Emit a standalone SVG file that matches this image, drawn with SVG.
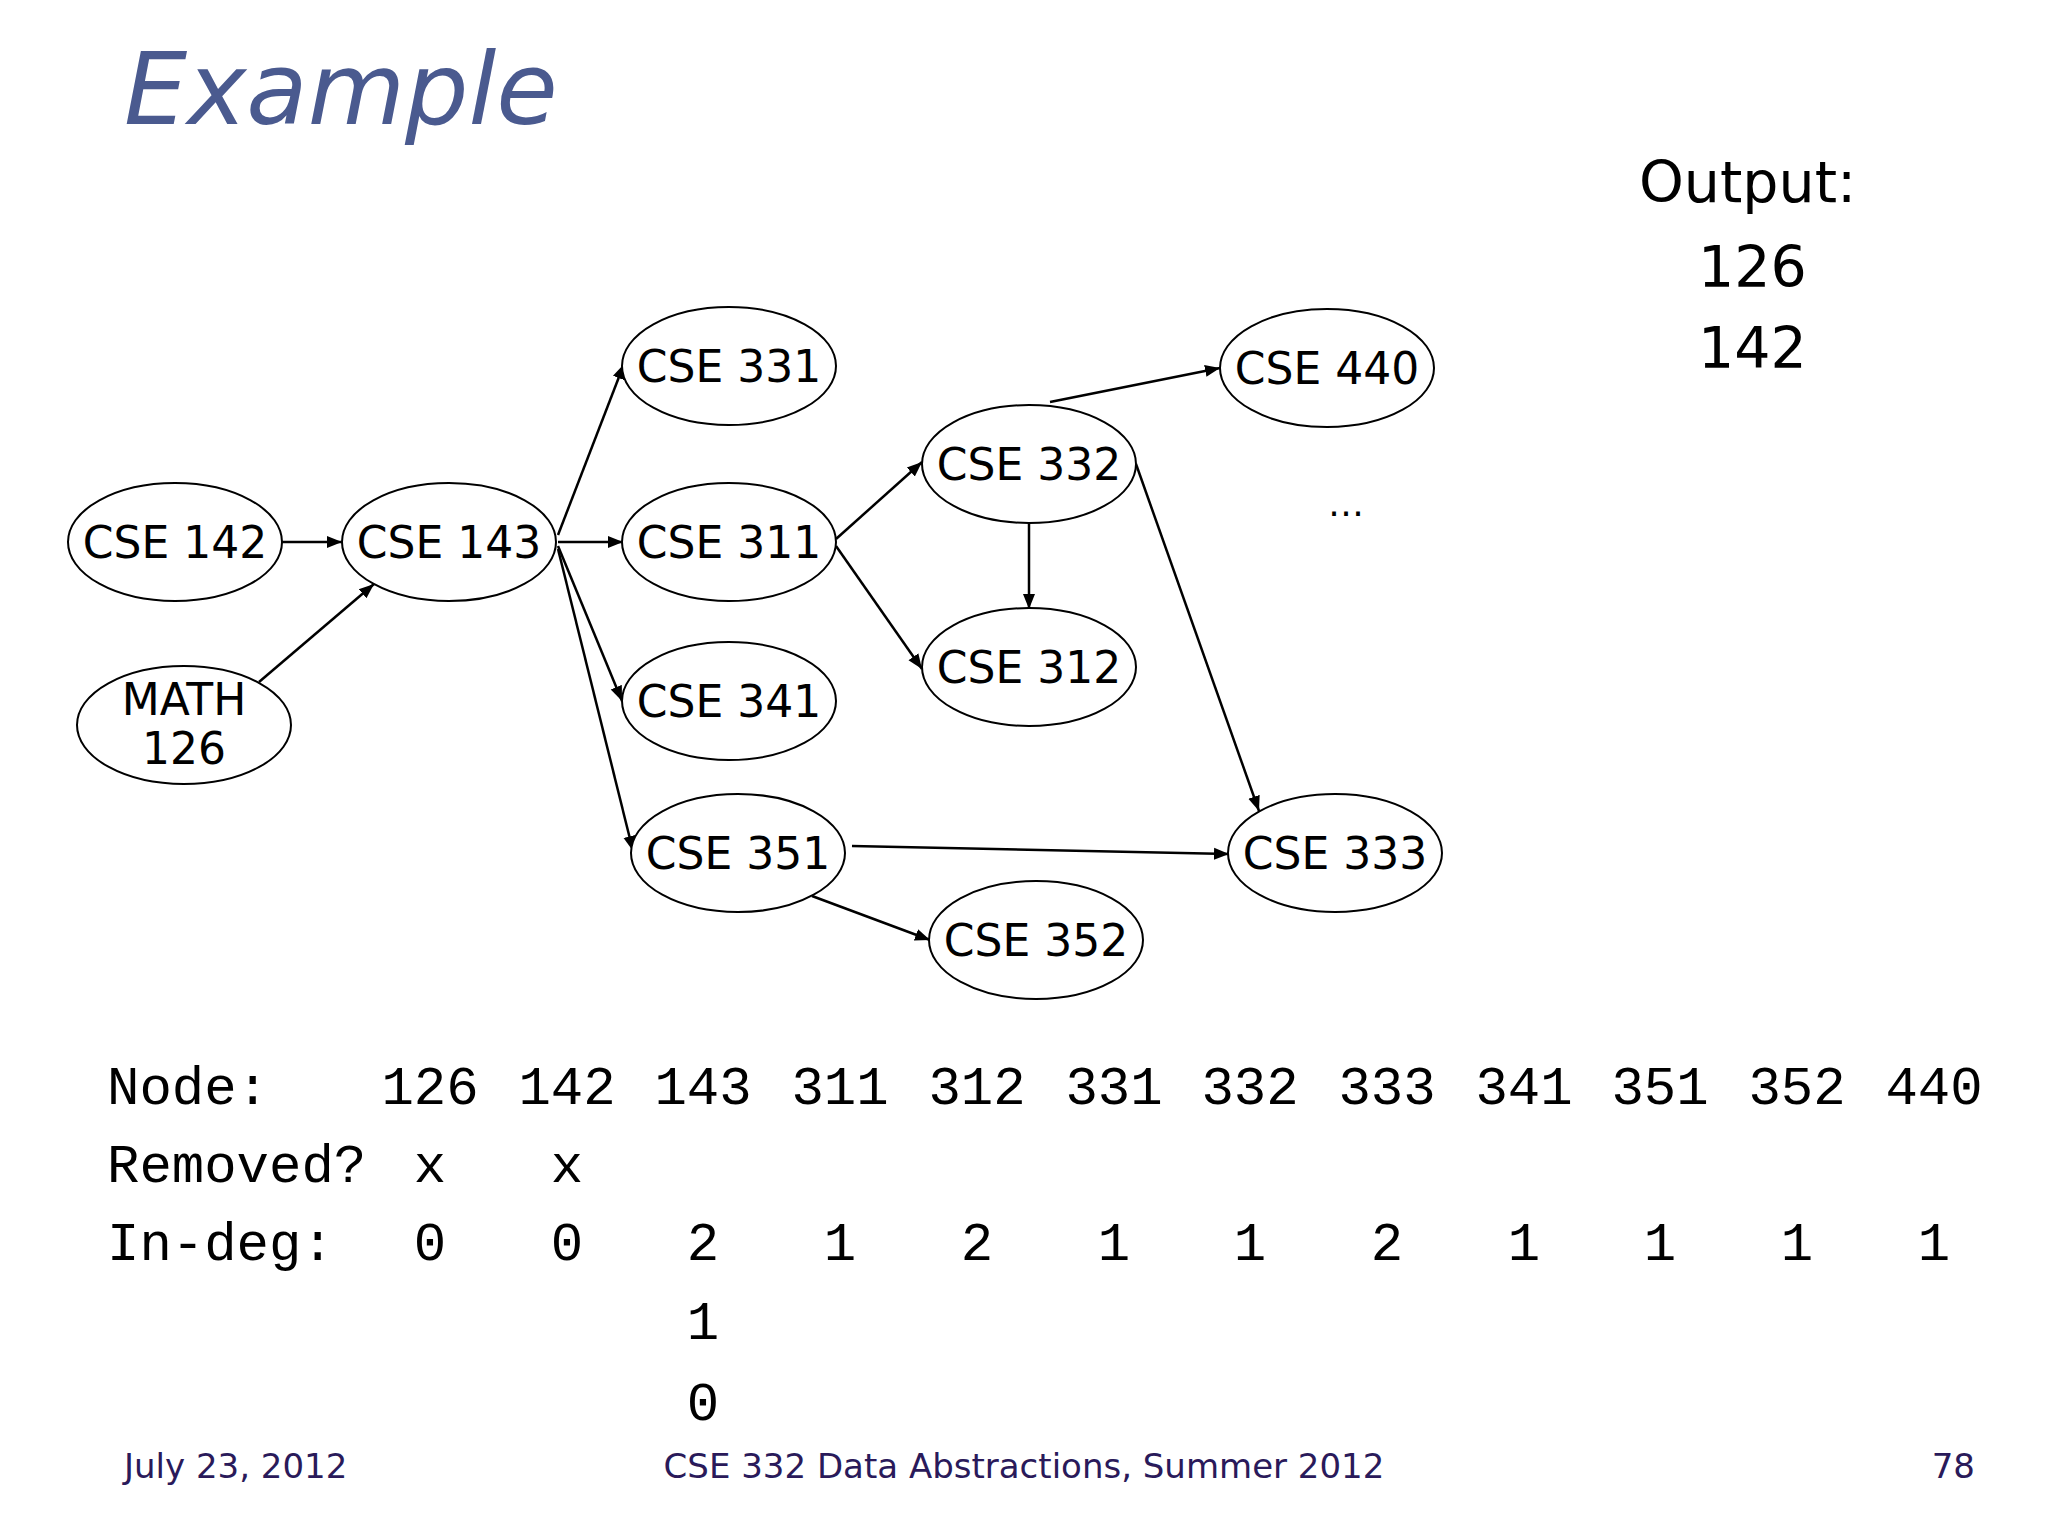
<svg xmlns="http://www.w3.org/2000/svg" width="2048" height="1536" viewBox="0 0 2048 1536">
<style>
.n ellipse{fill:#fff;stroke:#000;stroke-width:2}
.n text{font-family:"DejaVu Sans",sans-serif;font-size:44px;text-anchor:middle}
.e line{stroke:#000;stroke-width:2.5;marker-end:url(#a)}
.t{font-family:"Liberation Mono",monospace;font-size:54px}
.c{text-anchor:middle}
.f{font-family:"DejaVu Sans",sans-serif;font-size:34px;fill:#2a1a5a}
</style>
<defs><marker id="a" viewBox="0 0 10 10" refX="10" refY="5" markerWidth="6" markerHeight="6" orient="auto" markerUnits="strokeWidth"><path d="M0,1L10,5L0,9z"/></marker></defs>
<rect width="2048" height="1536" fill="#fff"/>
<text x="124" y="124" font-family="DejaVu Sans,sans-serif" font-style="italic" font-size="100" fill="#4a5a8f">Example</text>
<g font-family="DejaVu Sans,sans-serif" font-size="57">
<text x="1639" y="202">Output:</text><text x="1698" y="287">126</text><text x="1698" y="368">142</text>
<text x="1328" y="516" font-size="36">…</text>
</g>
<g class="e">
<line x1="282" y1="542" x2="342" y2="542"/>
<line x1="259" y1="682" x2="374" y2="584"/>
<line x1="558" y1="535" x2="624" y2="364"/>
<line x1="558" y1="542" x2="623" y2="542"/>
<line x1="558" y1="546" x2="622" y2="701"/>
<line x1="558" y1="549" x2="633" y2="851"/>
<line x1="836" y1="539" x2="922" y2="462"/>
<line x1="836" y1="546" x2="922" y2="669"/>
<line x1="1029" y1="522" x2="1029" y2="609"/>
<line x1="1050" y1="402" x2="1220" y2="368"/>
<line x1="1136" y1="464" x2="1259" y2="811"/>
<line x1="852" y1="846" x2="1229" y2="854"/>
<line x1="812" y1="896" x2="930" y2="940"/>
</g>
<g id="n142" class="n"><ellipse cx="175" cy="542" rx="107" ry="59"/><text x="175" y="558">CSE 142</text></g>
<g id="n143" class="n"><ellipse cx="449" cy="542" rx="107" ry="59"/><text x="449" y="558">CSE 143</text></g>
<g id="n126" class="n"><ellipse cx="184" cy="725" rx="107" ry="59"/><text x="184" y="715" font-size="40">MATH</text><text x="184" y="764" font-size="40">126</text></g>
<g id="n331" class="n"><ellipse cx="729" cy="366" rx="107" ry="59"/><text x="729" y="382">CSE 331</text></g>
<g id="n311" class="n"><ellipse cx="729" cy="542" rx="107" ry="59"/><text x="729" y="558">CSE 311</text></g>
<g id="n341" class="n"><ellipse cx="729" cy="701" rx="107" ry="59"/><text x="729" y="717">CSE 341</text></g>
<g id="n351" class="n"><ellipse cx="738" cy="853" rx="107" ry="59"/><text x="738" y="869">CSE 351</text></g>
<g id="n332" class="n"><ellipse cx="1029" cy="464" rx="107" ry="59"/><text x="1029" y="480">CSE 332</text></g>
<g id="n312" class="n"><ellipse cx="1029" cy="667" rx="107" ry="59"/><text x="1029" y="683">CSE 312</text></g>
<g id="n440" class="n"><ellipse cx="1327" cy="368" rx="107" ry="59"/><text x="1327" y="384">CSE 440</text></g>
<g id="n333" class="n"><ellipse cx="1335" cy="853" rx="107" ry="59"/><text x="1335" y="869">CSE 333</text></g>
<g id="n352" class="n"><ellipse cx="1036" cy="940" rx="107" ry="59"/><text x="1036" y="956">CSE 352</text></g>
<g class="t">
<text x="107" y="1104">Node:</text><text x="107" y="1182">Removed?</text><text x="107" y="1260">In-deg:</text>
<g class="c">
<text x="430" y="1104">126</text><text x="567" y="1104">142</text><text x="703" y="1104">143</text><text x="840" y="1104">311</text><text x="977" y="1104">312</text><text x="1114" y="1104">331</text><text x="1250" y="1104">332</text><text x="1387" y="1104">333</text><text x="1524" y="1104">341</text><text x="1660" y="1104">351</text><text x="1797" y="1104">352</text><text x="1934" y="1104">440</text>
<text x="430" y="1182">x</text><text x="567" y="1182">x</text>
<text x="430" y="1260">0</text><text x="567" y="1260">0</text><text x="703" y="1260">2</text><text x="840" y="1260">1</text><text x="977" y="1260">2</text><text x="1114" y="1260">1</text><text x="1250" y="1260">1</text><text x="1387" y="1260">2</text><text x="1524" y="1260">1</text><text x="1660" y="1260">1</text><text x="1797" y="1260">1</text><text x="1934" y="1260">1</text>
<text x="703" y="1339">1</text><text x="703" y="1420">0</text>
</g></g>
<text class="f" x="124" y="1478">July 23, 2012</text>
<text class="f" x="1024" y="1478" text-anchor="middle">CSE 332 Data Abstractions, Summer 2012</text>
<text class="f" x="1975" y="1478" text-anchor="end">78</text>
</svg>
